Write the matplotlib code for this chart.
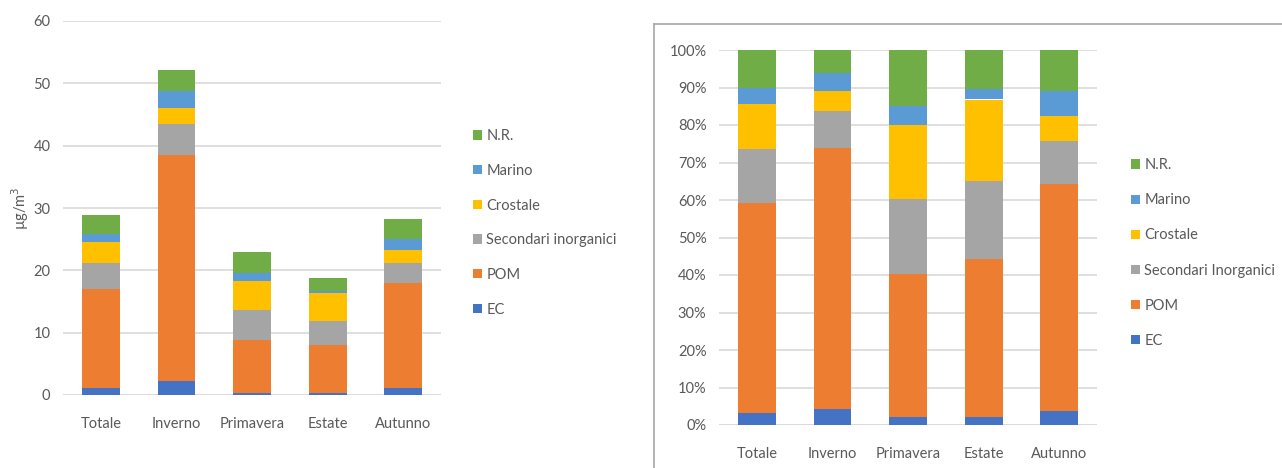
import matplotlib
matplotlib.use('Agg')
import matplotlib.pyplot as plt
from matplotlib.lines import Line2D
import numpy as np

plt.rcParams['font.family'] = ['Lato', 'DejaVu Sans']

categories = ['Totale', 'Inverno', 'Primavera', 'Estate', 'Autunno']
components = ['EC', 'POM', 'Secondari inorganici', 'Crostale', 'Marino', 'N.R.']
components_right = ['EC', 'POM', 'Secondari Inorganici', 'Crostale', 'Marino', 'N.R.']
colors = ['#4472C4', '#ED7D31', '#A5A5A5', '#FFC000', '#5B9BD5', '#70AD47']

# concentrations (ug/m3)
ec = [1.1, 2.3, 0.4, 0.4, 1.1]
pom = [15.9, 36.2, 8.5, 7.6, 16.8]
sec = [4.2, 5.0, 4.7, 3.9, 3.3]
crost = [3.3, 2.6, 4.7, 4.5, 2.1]
marino = [1.4, 2.7, 1.2, 0.3, 1.7]
nr = [3.0, 3.4, 3.4, 2.0, 3.3]

# percentages
ec_pct = [3.3, 4.4, 2.2, 2.2, 3.8]
pom_pct = [55.8, 69.6, 38.1, 42.0, 60.4]
sec_pct = [14.4, 9.8, 20.0, 21.0, 11.4]
crost_pct = [12.1, 5.2, 19.7, 21.6, 6.7]
marino_pct = [4.4, 5.0, 5.0, 2.7, 6.8]
nr_pct = [10.0, 6.0, 15.0, 10.5, 10.9]

txt = '#595959'
grid = '#D9D9D9'

fig = plt.figure(figsize=(12.82, 4.68), dpi=100)
W, H = 1282, 468


def stack(ax, series, labels):
    x = np.arange(len(categories))
    bottom = np.zeros(len(categories))
    for vals, c, lab in zip(series, colors, labels):
        ax.bar(x, vals, 0.5, bottom=bottom, color=c, label=lab, zorder=3)
        bottom += np.array(vals)
    ax.set_xticks(x)
    ax.set_xticklabels(categories)
    ax.set_xlim(-0.5, len(categories) - 0.5)
    for s in ax.spines.values():
        s.set_visible(False)
    ax.yaxis.grid(True, color=grid, linewidth=1.2, zorder=0)
    ax.tick_params(length=0, colors=txt, labelsize=10.5)
    ax.tick_params(axis='y', pad=9)
    ax.tick_params(axis='x', pad=16)
    ax.axhline(0, color=grid, linewidth=1.2, zorder=2)


# left chart
ax1 = fig.add_axes([63 / W, 1 - 395 / H, 378 / W, 374 / H])
stack(ax1, [ec, pom, sec, crost, marino, nr], components)
ax1.set_ylim(0, 60)
ax1.set_yticks(range(0, 61, 10))
ax1.set_ylabel('µg/m$^3$', color=txt, fontsize=10.5, labelpad=2)

h, l = ax1.get_legend_handles_labels()
fig.legend(h[::-1], l[::-1], loc='upper left', bbox_to_anchor=(460 / W, 1 - 116 / H),
           frameon=False, fontsize=10.5, labelcolor=txt, handlelength=0.6,
           handleheight=0.6, handletextpad=0.3, labelspacing=1.42)

# right chart
ax2 = fig.add_axes([719 / W, 1 - 425 / H, 378 / W, 375 / H])
stack(ax2, [ec_pct, pom_pct, sec_pct, crost_pct, marino_pct, nr_pct], components_right)
ax2.set_ylim(0, 100)
ax2.set_yticks(range(0, 101, 10))
ax2.set_yticklabels(['%d%%' % v for v in range(0, 101, 10)])

h, l = ax2.get_legend_handles_labels()
fig.legend(h[::-1], l[::-1], loc='upper left', bbox_to_anchor=(1118 / W, 1 - 145 / H),
           frameon=False, fontsize=10.5, labelcolor=txt, handlelength=0.6,
           handleheight=0.6, handletextpad=0.3, labelspacing=1.45)

# frame around right panel
fig.add_artist(Line2D([654 / W, 654 / W], [0, 1 - 24 / H], color='#A6A6A6', linewidth=1.2))
fig.add_artist(Line2D([654 / W, 1], [1 - 24 / H, 1 - 24 / H], color='#A6A6A6', linewidth=1.2))

plt.savefig('out.png', dpi=100)
